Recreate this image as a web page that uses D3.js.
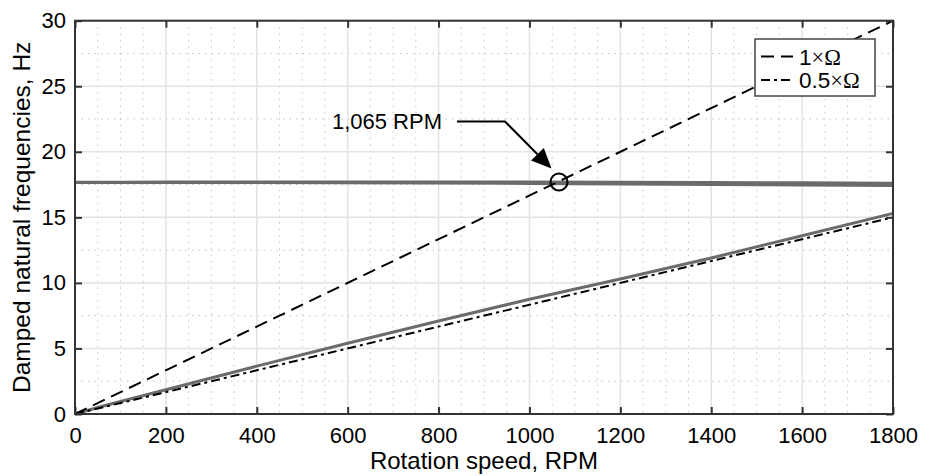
<!DOCTYPE html>
<html>
<head>
<meta charset="utf-8">
<script src="https://cdn.jsdelivr.net/npm/d3@7"></script>
<style>
    body { margin: 0; background: #fff; }
    svg { display: block; font-family: "Liberation Sans", Arial, sans-serif; }
</style>
</head>
<body>
<div id="chart"></div>
<script>
const speedRpm = [0, 50, 100, 200, 400, 600, 800, 1000, 1200, 1400, 1600, 1800];
// lower whirl mode (Hz)
const lowMode = [0, 0.5, 0.95, 1.85, 3.65, 5.4, 7.1, 8.75, 10.3, 11.9, 13.6, 15.3];
// upper pair of modes (Hz)
const highModeA = [17.68, 17.68, 17.68, 17.69, 17.7, 17.7, 17.7, 17.7, 17.68, 17.66, 17.63, 17.6];
const highModeB = [17.66, 17.66, 17.66, 17.66, 17.65, 17.64, 17.62, 17.59, 17.55, 17.51, 17.47, 17.42];

// excitation lines
const excitationSpeeds = [0, 1800];
const oneX = [0, 30];
const halfX = [0, 15];

const legendLabels = ["1", "0.5"];
const crossing = {rpm: 1065, hz: 17.7, label: "1,065 RPM"};

const xTicks = d3.range(0, 1801, 200);
const yTicks = d3.range(0, 31, 5);
const xMinor = d3.range(0, 1801, 50).filter(d => d % 200 !== 0);
const yMinor = d3.range(2.5, 30, 5);

class CampbellChart {
    constructor(_config) {
        this.config = {
            parentElement: _config.parentElement,
            width: 930,
            height: 476,
            margin: {top: 20.7, right: 37, bottom: 62, left: 75}
        };
        this.initVis();
    }

    initVis() {
        let vis = this;
        const m = vis.config.margin;
        vis.width = vis.config.width - m.left - m.right;
        vis.height = vis.config.height - m.top - m.bottom;

        vis.xScale = d3.scaleLinear().domain([0, 1800]).range([0, vis.width]);
        vis.yScale = d3.scaleLinear().domain([0, 30]).range([vis.height, 0]);

        vis.svg = d3.select(vis.config.parentElement)
            .append('svg')
            .attr('width', vis.config.width)
            .attr('height', vis.config.height);

        vis.chart = vis.svg.append('g')
            .attr('transform', `translate(${m.left},${m.top})`);

        vis.renderVis();
    }

    renderVis() {
        let vis = this;
        const x = vis.xScale, y = vis.yScale;

        // minor grid (dotted)
        const minor = vis.chart.append('g')
            .attr('stroke', '#c4c4c4')
            .attr('stroke-width', 1)
            .attr('stroke-dasharray', '1.5,5');
        minor.selectAll('.vx').data(xMinor).join('line')
            .attr('x1', d => x(d)).attr('x2', d => x(d))
            .attr('y1', 0).attr('y2', vis.height);
        minor.selectAll('.hy').data(yMinor).join('line')
            .attr('y1', d => y(d)).attr('y2', d => y(d))
            .attr('x1', 0).attr('x2', vis.width);

        // major grid
        const major = vis.chart.append('g')
            .attr('stroke', '#e3e3e3')
            .attr('stroke-width', 1.5);
        major.selectAll('.vx').data(xTicks).join('line')
            .attr('x1', d => x(d)).attr('x2', d => x(d))
            .attr('y1', 0).attr('y2', vis.height);
        major.selectAll('.hy').data(yTicks).join('line')
            .attr('y1', d => y(d)).attr('y2', d => y(d))
            .attr('x1', 0).attr('x2', vis.width);

        const line = d3.line().x(d => x(d[0])).y(d => y(d[1]));

        // modes
        [highModeA, highModeB, lowMode].forEach(series => {
            vis.chart.append('path')
                .datum(d3.zip(speedRpm, series))
                .attr('fill', 'none')
                .attr('stroke', '#6b6b6b')
                .attr('stroke-width', 3)
                .attr('d', line);
        });

        // excitation lines
        vis.chart.append('path')
            .datum(d3.zip(excitationSpeeds, oneX))
            .attr('fill', 'none')
            .attr('stroke', '#000')
            .attr('stroke-width', 2)
            .attr('stroke-dasharray', '13,7')
            .attr('d', line);

        vis.chart.append('path')
            .datum(d3.zip(excitationSpeeds, halfX))
            .attr('fill', 'none')
            .attr('stroke', '#000')
            .attr('stroke-width', 2)
            .attr('stroke-dasharray', '9,4,3,4')
            .attr('d', line);

        // crossing marker + annotation
        const cx = x(crossing.rpm), cy = y(crossing.hz);
        vis.chart.append('circle')
            .attr('cx', cx).attr('cy', cy).attr('r', 8.5)
            .attr('fill', 'none')
            .attr('stroke', '#000')
            .attr('stroke-width', 2);

        const tip = [cx - 7.5, cy - 13.5];
        const elbow = [cx - 54, cy - 60.5];
        const start = [cx - 102, cy - 60.5];
        const dx = tip[0] - elbow[0], dy = tip[1] - elbow[1];
        const len = Math.hypot(dx, dy), ux = dx / len, uy = dy / len;
        const headLen = 20, headHalf = 9;
        const base = [tip[0] - ux * headLen, tip[1] - uy * headLen];

        vis.chart.append('path')
            .attr('d', d3.line()([start, elbow, base]))
            .attr('fill', 'none')
            .attr('stroke', '#000')
            .attr('stroke-width', 2);
        vis.chart.append('path')
            .attr('d', d3.line()([tip,
                [base[0] - uy * headHalf, base[1] + ux * headHalf],
                [base[0] + uy * headHalf, base[1] - ux * headHalf]]) + 'Z')
            .attr('fill', '#000');

        vis.chart.append('text')
            .attr('x', start[0] - 15)
            .attr('y', start[1] + 8)
            .attr('text-anchor', 'end')
            .attr('font-size', 22)
            .text(crossing.label);

        // axes: ticks inside on all four sides (box)
        const tickLen = 7;
        const fmt = d3.format('d');
        const xAxis = vis.chart.append('g')
            .attr('transform', `translate(0,${vis.height})`)
            .call(d3.axisBottom(x).tickValues(xTicks).tickFormat(fmt).tickSizeInner(-tickLen).tickSizeOuter(0).tickPadding(13));
        const xAxisTop = vis.chart.append('g')
            .call(d3.axisTop(x).tickValues(xTicks).tickSizeInner(-tickLen).tickSizeOuter(0).tickFormat(''));
        const yAxis = vis.chart.append('g')
            .call(d3.axisLeft(y).tickValues(yTicks).tickFormat(fmt).tickSizeInner(-tickLen).tickSizeOuter(0).tickPadding(9));
        const yAxisRight = vis.chart.append('g')
            .attr('transform', `translate(${vis.width},0)`)
            .call(d3.axisRight(y).tickValues(yTicks).tickSizeInner(-tickLen).tickSizeOuter(0).tickFormat(''));

        [xAxis, xAxisTop, yAxis, yAxisRight].forEach(g => {
            g.select('.domain').remove();
            g.selectAll('.tick line').attr('stroke', '#333').attr('stroke-width', 2);
            g.selectAll('.tick text')
                .attr('fill', '#000')
                .attr('font-size', 22)
                .attr('font-family', '"Liberation Sans", Arial, sans-serif');
        });

        vis.chart.append('rect')
            .attr('width', vis.width)
            .attr('height', vis.height)
            .attr('fill', 'none')
            .attr('stroke', '#333')
            .attr('stroke-width', 2);

        // legend (box right edge ~18px inside the axis)
        const legendW = 120, legendH = 57;
        const legend = vis.chart.append('g')
            .attr('transform', `translate(${vis.width - 18 - legendW},${39 - vis.config.margin.top})`);
        legend.append('rect')
            .attr('width', legendW).attr('height', legendH)
            .attr('fill', '#fff')
            .attr('stroke', '#444')
            .attr('stroke-width', 1.5);
        const styles = ['13,7', '9,4,3,4'];
        legendLabels.forEach((lab, i) => {
            const ly = 17.5 + i * 23.5;
            legend.append('line')
                .attr('x1', 6).attr('x2', 38)
                .attr('y1', ly).attr('y2', ly)
                .attr('stroke', '#000')
                .attr('stroke-width', 2)
                .attr('stroke-dasharray', styles[i]);
            const t = legend.append('text')
                .attr('x', 44).attr('y', ly + 8)
                .attr('font-size', 22.5);
            t.append('tspan').text(lab);
            t.append('tspan').attr('font-family', '"Liberation Serif", serif').text('\u00d7\u03a9');
        });

        // axis titles
        vis.svg.append('text')
            .attr('x', vis.config.margin.left + vis.width / 2)
            .attr('y', 469)
            .attr('text-anchor', 'middle')
            .attr('font-size', 24)
            .text('Rotation speed, RPM');

        vis.svg.append('text')
            .attr('transform', `translate(30,${vis.config.margin.top + vis.height / 2}) rotate(-90)`)
            .attr('text-anchor', 'middle')
            .attr('font-size', 24.5)
            .text('Damped natural frequencies, Hz');
    }
}

new CampbellChart({parentElement: '#chart'});
</script>
</body>
</html>
